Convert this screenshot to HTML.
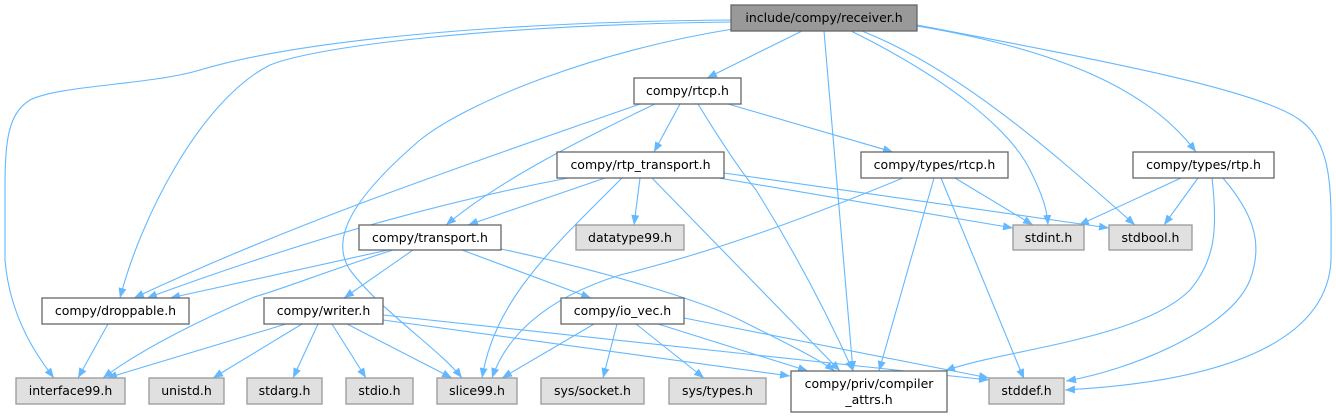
<!DOCTYPE html>
<html><head><meta charset="utf-8"><style>
html,body{margin:0;padding:0;background:#fff;}
svg{display:block;}
text{font-family:"DejaVu Sans","Liberation Sans",sans-serif;font-size:12.5px;fill:#000;}
.e{fill:none;stroke:#63b8ff;stroke-width:1.1;marker-end:url(#a);}
.n{fill:#fff;stroke:#666;stroke-width:1.3;}
.g{fill:#e0e0e0;stroke:#999;stroke-width:1.3;}
</style></head><body>
<svg width="1336" height="417" viewBox="0 0 1336 417" xmlns="http://www.w3.org/2000/svg">
<defs><marker id="a" markerUnits="userSpaceOnUse" markerWidth="11" markerHeight="9" refX="10" refY="4" orient="auto"><path d="M0,0 L10,4 L0,8 z" fill="#63b8ff"/></marker></defs>
<!-- edges from receiver -->
<path class="e" d="M731,20 C500,22 300,40 200,70 C150,85 60,85 30,100 C5,115 5,150 5,200 L5,260 C10,320 40,360 54,378"/>
<path class="e" d="M731,22 C500,25 320,45 270,65 C200,100 140,220 120,298"/>
<path class="e" d="M733,29 C600,50 470,100 420,140 C350,200 330,240 350,270 C380,310 440,350 462,378"/>
<path class="e" d="M802,31 L707,78"/>
<path class="e" d="M824,31 L853,371"/>
<path class="e" d="M851,31 C950,80 1010,130 1030,170 C1045,200 1047,212 1048,225"/>
<path class="e" d="M862,31 C960,70 1050,150 1135,225"/>
<path class="e" d="M917,26 C1060,50 1150,90 1196,152"/>
<path class="e" d="M917,25 C1100,60 1260,90 1300,120 C1335,145 1331,200 1331,260 C1328,330 1250,380 1065,390"/>
<!-- from rtcp -->
<path class="e" d="M640,104 C480,160 300,220 134,298"/>
<path class="e" d="M655,104 C580,140 500,180 446,225"/>
<path class="e" d="M680,104 L654,152"/>
<path class="e" d="M698,104 C720,140 740,170 756,190 C800,260 830,320 853,371"/>
<path class="e" d="M728,104 L893,152"/>
<!-- from rtp_transport -->
<path class="e" d="M568,178 C400,210 250,260 147,298"/>
<path class="e" d="M605,178 L468,225"/>
<path class="e" d="M622,178 C550,250 495,300 482,378"/>
<path class="e" d="M640,178 L634,225"/>
<path class="e" d="M652,178 L840,371"/>
<path class="e" d="M707,176 L1013,228"/>
<path class="e" d="M724,173 L1109,228"/>
<!-- from types/rtcp -->
<path class="e" d="M903,178 C800,220 720,250 620,275 C540,300 505,340 492,378"/>
<path class="e" d="M934,178 L879,371"/>
<path class="e" d="M955,178 L1033,225"/>
<path class="e" d="M941,178 L1024,379"/>
<!-- from types/rtp -->
<path class="e" d="M1181,178 L1079,225"/>
<path class="e" d="M1198,178 L1164,225"/>
<path class="e" d="M1212,178 C1218,230 1215,260 1190,290 C1140,340 1000,350 945,371"/>
<path class="e" d="M1223,178 C1250,210 1265,240 1250,280 C1230,330 1130,370 1066,381"/>
<!-- from transport -->
<path class="e" d="M388,250 L170,298"/>
<path class="e" d="M393,250 C330,270 280,290 254,297 C200,320 140,350 103,378"/>
<path class="e" d="M413,250 L344,298"/>
<path class="e" d="M462,250 L591,298"/>
<path class="e" d="M501,249 C600,270 700,300 740,320 C790,345 820,360 835,371"/>
<!-- from droppable -->
<path class="e" d="M108,324 L78,378"/>
<!-- from writer -->
<path class="e" d="M286,324 L107,378"/>
<path class="e" d="M302,324 L213,378"/>
<path class="e" d="M318,324 L293,378"/>
<path class="e" d="M332,324 L366,378"/>
<path class="e" d="M347,324 L452,378"/>
<path class="e" d="M383,320 L790,376"/>
<path class="e" d="M383,315 L989,380"/>
<!-- from io_vec -->
<path class="e" d="M594,324 L502,378"/>
<path class="e" d="M617,324 L603,378"/>
<path class="e" d="M636,324 L704,378"/>
<path class="e" d="M658,324 L808,371"/>
<path class="e" d="M684,318 L989,378"/>
<!-- nodes -->
<rect x="731" y="5" width="186" height="26" fill="#999" stroke="#666" stroke-width="1.3"/>
<text x="824" y="22" text-anchor="middle">include/compy/receiver.h</text>
<rect class="n" x="634" y="78" width="107" height="26"/><text x="687.5" y="95" text-anchor="middle">compy/rtcp.h</text>
<rect class="n" x="557" y="152" width="167" height="26"/><text x="640.5" y="169" text-anchor="middle">compy/rtp_transport.h</text>
<rect class="n" x="861" y="152" width="147" height="26"/><text x="934.5" y="169" text-anchor="middle">compy/types/rtcp.h</text>
<rect class="n" x="1133" y="152" width="141" height="26"/><text x="1203.5" y="169" text-anchor="middle">compy/types/rtp.h</text>
<rect class="n" x="359" y="225" width="142" height="25"/><text x="430" y="242" text-anchor="middle">compy/transport.h</text>
<rect class="g" x="576" y="225" width="108" height="25"/><text x="630" y="242" text-anchor="middle">datatype99.h</text>
<rect class="g" x="1013" y="225" width="71" height="25"/><text x="1048.5" y="242" text-anchor="middle">stdint.h</text>
<rect class="g" x="1109" y="225" width="83" height="25"/><text x="1150.5" y="242" text-anchor="middle">stdbool.h</text>
<rect class="n" x="42" y="298" width="147" height="26"/><text x="115.5" y="315" text-anchor="middle">compy/droppable.h</text>
<rect class="n" x="264" y="298" width="119" height="26"/><text x="323.5" y="315" text-anchor="middle">compy/writer.h</text>
<rect class="n" x="561" y="298" width="123" height="26"/><text x="622.5" y="315" text-anchor="middle">compy/io_vec.h</text>
<rect class="g" x="16" y="378" width="109" height="26"/><text x="70.5" y="395" text-anchor="middle">interface99.h</text>
<rect class="g" x="149" y="378" width="75" height="26"/><text x="186.5" y="395" text-anchor="middle">unistd.h</text>
<rect class="g" x="247" y="378" width="75" height="26"/><text x="284.5" y="395" text-anchor="middle">stdarg.h</text>
<rect class="g" x="346" y="378" width="67" height="26"/><text x="379.5" y="395" text-anchor="middle">stdio.h</text>
<rect class="g" x="437" y="378" width="80" height="26"/><text x="477" y="395" text-anchor="middle">slice99.h</text>
<rect class="g" x="541" y="378" width="103" height="26"/><text x="592.5" y="395" text-anchor="middle">sys/socket.h</text>
<rect class="g" x="669" y="378" width="97" height="26"/><text x="717.5" y="395" text-anchor="middle">sys/types.h</text>
<rect class="n" x="791" y="371" width="156" height="41"/><text x="869" y="388" text-anchor="middle">compy/priv/compiler</text><text x="869" y="404" text-anchor="middle">_attrs.h</text>
<rect class="g" x="989" y="378" width="75" height="26"/><text x="1026.5" y="395" text-anchor="middle">stddef.h</text>
</svg>
</body></html>
